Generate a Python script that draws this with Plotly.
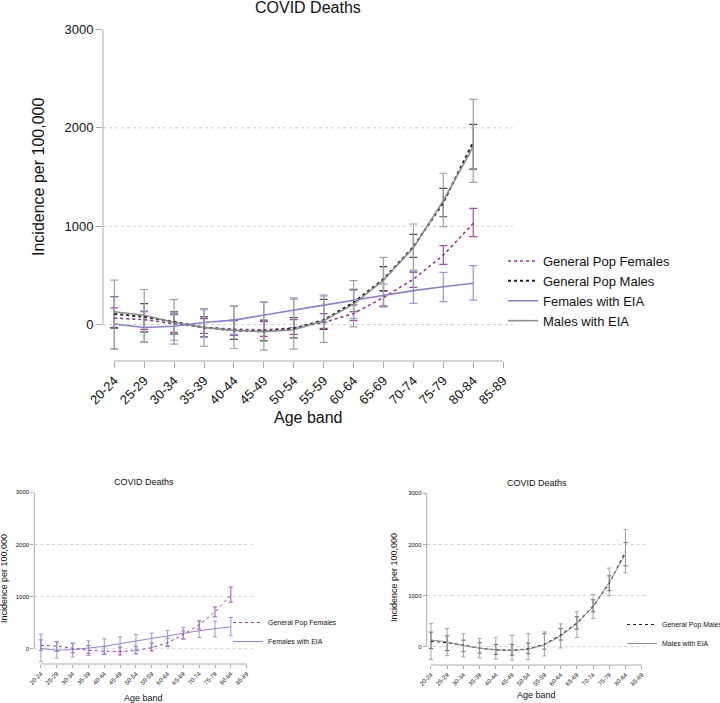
import plotly.graph_objects as go

# ---------------- data ----------------
age_bands = ["20-24", "25-29", "30-34", "35-39", "40-44", "45-49", "50-54",
             "55-59", "60-64", "65-69", "70-74", "75-79", "80-84", "85-89"]
y_ticks = [0, 1000, 2000, 3000]

# fitted curves (incidence per 100,000), age bands 20-24 .. 80-84
gp_f_fit = [65, 50, 10, -30, -47, -55, -35, 20, 112, 275, 460, 705, 1028]
gp_m_fit = [108, 78, 27, -30, -60, -70, -41, 44, 224, 460, 790, 1240, 1855]
eia_f_fit = [5, -30, -17, 20, 45, 98, 149, 197, 247, 295, 345, 384, 420]
eia_m_fit = [130, 95, 20, -30, -60, -72, -54, 37, 207, 450, 780, 1260, 1808]

# confidence intervals
gp_f_lo = [-30, -50, -80, -90, -110, -120, -100, -40, 40, 190, 378, 612, 893]
gp_f_hi = [170, 130, 100, 60, 40, 30, 50, 110, 200, 340, 530, 802, 1181]
gp_m_lo = [-37, -75, -98, -125, -152, -166, -135, -50, 130, 344, 683, 1096, 1581]
gp_m_hi = [285, 213, 129, 78, 44, 44, 71, 255, 358, 588, 917, 1385, 2036]
eia_f_lo = [-250, -180, -160, -130, -100, -60, -30, 20, 60, 180, 215, 232, 249]
eia_f_hi = [280, 140, 110, 150, 190, 230, 270, 300, 350, 410, 537, 531, 598]
eia_m_lo = [-251, -176, -200, -220, -244, -261, -251, -181, -25, 181, 553, 995, 1446]
eia_m_hi = [451, 356, 254, 163, 186, 224, 258, 290, 446, 683, 1022, 1538, 2290]

names = ["General Pop Females", "General Pop Males", "Females with EIA", "Males with EIA"]

# ---------------- layout helpers ----------------
W, H = 720, 703
FONT = "Liberation Sans, Arial, Helvetica, sans-serif"


def px(x):
    return x / W


def py(y):
    return 1 - y / H


series = {
    "gpf": dict(name=names[0], fit=gp_f_fit, lo=gp_f_lo, hi=gp_f_hi,
                color="#8e3a8e", dash="3px,3px", bar="#a24aa8", w=1.6),
    "gpm": dict(name=names[1], fit=gp_m_fit, lo=gp_m_lo, hi=gp_m_hi,
                color="#1e1e1e", dash="3px,3px", bar="#4a4a4a", w=2.0),
    "eiaf": dict(name=names[2], fit=eia_f_fit, lo=eia_f_lo, hi=eia_f_hi,
                 color="#8a80c8", dash="solid", bar="#9a92d2", w=1.6),
    "eiam": dict(name=names[3], fit=eia_m_fit, lo=eia_m_lo, hi=eia_m_hi,
                 color="#8c8c8c", dash="solid", bar="#a0a0a0", w=1.6),
}

panels = [
    dict(xa="x", ya="y", keys=["gpf", "gpm", "eiaf", "eiam"], legend="legend",
         x0=103, x1=513, ytop=29.5, ybot=361, xr=[-0.378, 13.33], yr=[-371, 3000],
         tick_font=13, title_font=16, lw_scale=1.0, cap=4, ticklen=6,
         title_y=-3, ytitle_x=38, ytitle_y=177, xtitle_y=417),
    dict(xa="x2", ya="y2", keys=["gpf", "eiaf"], legend="legend2",
         x0=34.3, x1=253, ytop=492.3, ybot=664, xr=[-0.42, 13.4], yr=[-293, 3000],
         tick_font=6, title_font=9, lw_scale=0.6, cap=2, ticklen=3,
         title_y=475, ytitle_x=4, ytitle_y=579, xtitle_y=698),
    dict(xa="x3", ya="y3", keys=["gpm", "eiam"], legend="legend3",
         x0=426.7, x1=646.7, ytop=493.3, ybot=665, xr=[-0.265, 13.31], yr=[-358, 3000],
         tick_font=6, title_font=9, lw_scale=0.6, cap=2, ticklen=3,
         title_y=476, ytitle_x=394, ytitle_y=578, xtitle_y=695),
]

fig = go.Figure()
shapes = []
annotations = []
layout_axes = {}

xs = list(range(len(gp_f_fit)))

for p in panels:
    # error bars first (beneath the curves)
    for k in p["keys"]:
        s = series[k]
        mid = [(a + b) / 2 for a, b in zip(s["lo"], s["hi"])]
        half = [(b - a) / 2 for a, b in zip(s["lo"], s["hi"])]
        fig.add_trace(go.Scatter(
            x=xs, y=mid, mode="markers", xaxis=p["xa"], yaxis=p["ya"],
            marker=dict(size=1, color="rgba(0,0,0,0)"),
            error_y=dict(type="data", array=half, symmetric=True,
                         color=s["bar"], thickness=1.2 * max(p["lw_scale"], 0.8),
                         width=p["cap"]),
            showlegend=False, hoverinfo="skip"))
    for k in p["keys"]:
        s = series[k]
        fig.add_trace(go.Scatter(
            x=xs, y=s["fit"], mode="lines", name=s["name"],
            xaxis=p["xa"], yaxis=p["ya"], legend=p["legend"],
            line=dict(color=s["color"], dash=s["dash"], width=s["w"] * p["lw_scale"])))

    xname = "xaxis" if p["xa"] == "x" else "xaxis" + p["xa"][1:]
    yname = "yaxis" if p["ya"] == "y" else "yaxis" + p["ya"][1:]
    layout_axes[xname] = dict(
        domain=[px(p["x0"]), px(p["x1"])], range=p["xr"], anchor=p["ya"],
        tickmode="array", tickvals=list(range(len(age_bands))), ticktext=age_bands,
        tickangle=-45, ticks="outside", ticklen=p["ticklen"], tickcolor="#a8a8a8",
        tickwidth=1, showgrid=False, zeroline=False, showline=False,
        tickfont=dict(family=FONT, size=p["tick_font"], color="#111"))
    layout_axes[yname] = dict(
        domain=[py(p["ybot"]), py(p["ytop"])], range=p["yr"], anchor=p["xa"],
        tickmode="array", tickvals=y_ticks, ticks="outside", ticklen=p["ticklen"],
        tickcolor="#a8a8a8", tickwidth=1, showgrid=False, zeroline=False,
        showline=False, tickfont=dict(family=FONT, size=p["tick_font"], color="#111"))

    dref = p["xa"] + " domain"
    ydref = p["ya"] + " domain"
    # axis lines spanning the tick range only
    shapes.append(dict(type="line", xref=dref, x0=0, x1=0, yref=p["ya"],
                       y0=y_ticks[0], y1=y_ticks[-1], line=dict(color="#a8a8a8", width=1)))
    shapes.append(dict(type="line", xref=p["xa"], x0=0, x1=len(age_bands) - 1,
                       yref=ydref, y0=0, y1=0, line=dict(color="#a8a8a8", width=1)))
    # dotted gridlines
    for v in y_ticks[:-1]:
        shapes.append(dict(type="line", xref=dref, x0=0, x1=1, yref=p["ya"], y0=v, y1=v,
                           line=dict(color="#cfcfcf", width=1, dash="dot"), layer="below"))

    cx = px((p["x0"] + p["x1"]) / 2)
    annotations.append(dict(text="COVID Deaths", x=cx, y=py(p["title_y"]), xref="paper",
                            yref="paper", xanchor="center", yanchor="top", showarrow=False,
                            font=dict(family=FONT, size=p["title_font"], color="#111")))
    annotations.append(dict(text="Incidence per 100,000", x=px(p["ytitle_x"]),
                            y=py(p["ytitle_y"]), xref="paper", yref="paper", textangle=-90,
                            xanchor="center", yanchor="middle", showarrow=False,
                            font=dict(family=FONT, size=p["title_font"], color="#111")))
    annotations.append(dict(text="Age band", x=cx, y=py(p["xtitle_y"]), xref="paper",
                            yref="paper", xanchor="center", yanchor="middle", showarrow=False,
                            font=dict(family=FONT, size=p["title_font"], color="#111")))

fig.update_layout(
    width=W, height=H, margin=dict(l=0, r=0, t=0, b=0, autoexpand=False),
    paper_bgcolor="white", plot_bgcolor="white",
    shapes=shapes, annotations=annotations,
    legend=dict(x=px(503), y=py(246), xanchor="left", yanchor="top",
                bgcolor="rgba(0,0,0,0)", font=dict(family=FONT, size=13, color="#111"),
                itemwidth=30, traceorder="normal"),
    legend2=dict(x=px(228), y=py(608), xanchor="left", yanchor="top",
                 bgcolor="rgba(0,0,0,0)", font=dict(family=FONT, size=7, color="#111"),
                 itemwidth=30, traceorder="normal"),
    legend3=dict(x=px(622), y=py(610), xanchor="left", yanchor="top",
                 bgcolor="rgba(0,0,0,0)", font=dict(family=FONT, size=7, color="#111"),
                 itemwidth=30, traceorder="normal"),
    **layout_axes,
)

# remove the browser's default 8px body margin so the figure sits at the page origin
fig.write_html("out.html", config={"displayModeBar": False},
               post_script="document.body.style.margin='0px';document.body.style.overflow='hidden';")
